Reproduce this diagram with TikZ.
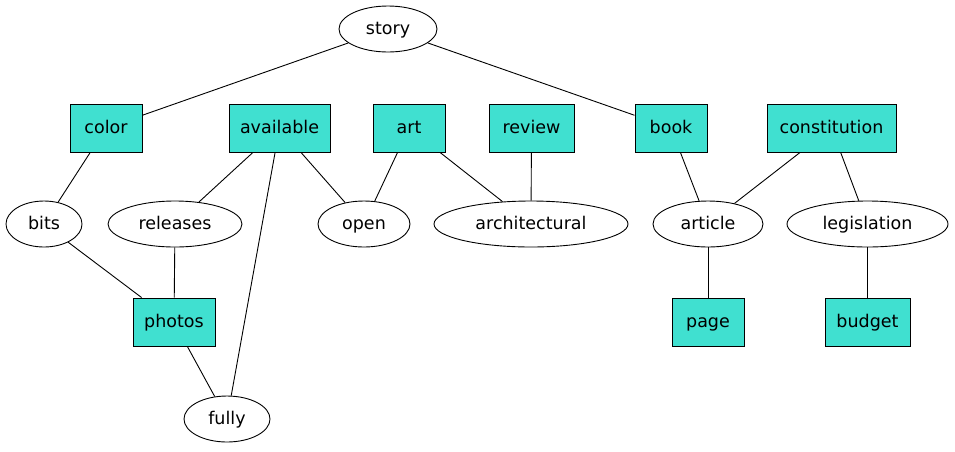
\documentclass[tikz,border=0pt]{standalone}
\usepackage{fontspec}
\setmainfont{DejaVu Sans}
\usetikzlibrary{shapes.geometric}
\definecolor{turq}{HTML}{40E0D0}
\begin{document}
\begin{tikzpicture}[x=1pt,y=-1pt,
  every node/.style={font=\fontsize{17.5}{20}\selectfont, inner sep=0pt, text height=13.5pt, text depth=3.5pt},
  ell/.style={draw, ellipse, minimum height=46pt},
  bx/.style={draw, fill=turq, rectangle, minimum height=48pt},
  every path/.style={line width=0.9pt}]
\useasboundingbox (0,0) rectangle (955,451);
\node[ell, minimum width=98pt] (story) at (388,29) {story};
\node[bx, minimum width=72pt] (color) at (106,128) {color};
\node[bx, minimum width=101pt] (available) at (279.5,128) {available};
\node[bx, minimum width=72pt] (art) at (409,128) {art};
\node[bx, minimum width=85pt] (review) at (531.5,128) {review};
\node[bx, minimum width=72pt] (book) at (671,128) {book};
\node[bx, minimum width=129pt] (constitution) at (831.5,128) {constitution};
\node[ell, minimum width=76pt] (bits) at (44,224) {bits};
\node[ell, minimum width=134pt] (releases) at (175,224) {releases};
\node[ell, minimum width=92pt] (open) at (364,224) {open};
\node[ell, minimum width=194pt] (architectural) at (531,224) {architectural};
\node[ell, minimum width=110pt] (article) at (708,224) {article};
\node[ell, minimum width=161pt] (legislation) at (867.5,224) {legislation};
\node[bx, minimum width=82pt] (photos) at (174,322) {photos};
\node[bx, minimum width=72pt] (page) at (708,322) {page};
\node[bx, minimum width=85pt] (budget) at (867.5,322) {budget};
\node[ell, minimum width=86pt] (fully) at (227,419) {fully};
\draw (story) -- (color);
\draw (story) -- (book);
\draw (color) -- (bits);
\draw (available) -- (releases);
\draw (available) -- (open);
\draw (available) -- (fully);
\draw (art) -- (open);
\draw (art) -- (architectural);
\draw (review) -- (architectural);
\draw (book) -- (article);
\draw (constitution) -- (article);
\draw (constitution) -- (legislation);
\draw (bits) -- (photos);
\draw (releases) -- (photos);
\draw (photos) -- (fully);
\draw (article) -- (page);
\draw (legislation) -- (budget);
\end{tikzpicture}
\end{document}
